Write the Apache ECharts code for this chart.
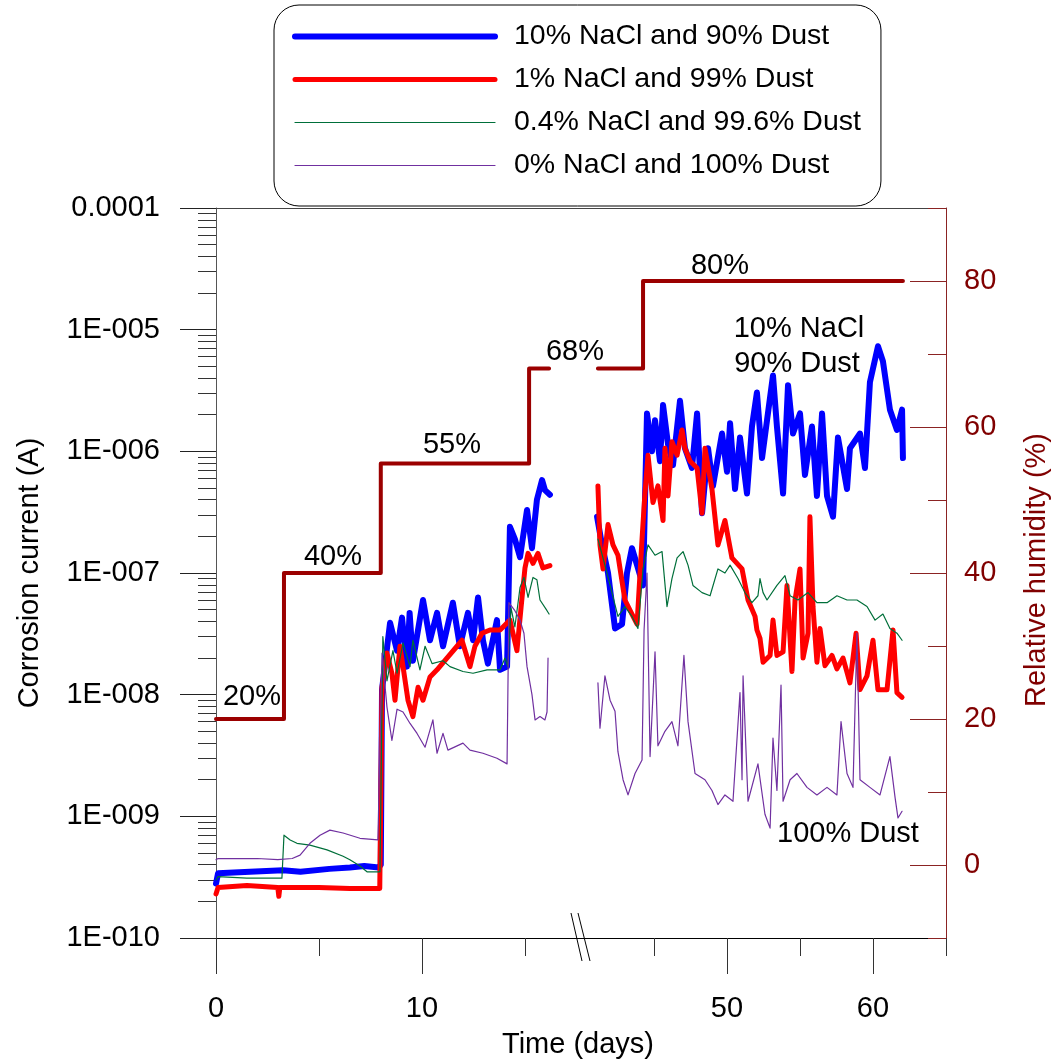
<!DOCTYPE html>
<html>
<head>
<meta charset="utf-8">
<script src="https://cdn.jsdelivr.net/npm/echarts@6/dist/echarts.min.js"></script>
<style>
html, body { margin: 0; padding: 0; background: #fff; }
#chartCorr { width: 1055px; height: 1062px; }
</style>
</head>
<body>
<div id="chartCorr"></div>
<script type="text/javascript">
// series names (legend)
var seriesNames = ['10% NaCl and 90% Dust', '1% NaCl and 99% Dust', '0.4% NaCl and 99.6% Dust', '0% NaCl and 100% Dust'];

// [day, corrosion current (A)] - first part of the test (0..17 days)
var blueLeft = [[0, 2.8e-10], [0.1, 3.4e-10], [1.65, 3.5e-10], [3.25, 3.6e-10], [4.1, 3.5e-10], [5.5, 3.7e-10], [6.5, 3.8e-10], [7.2, 3.9e-10], [7.9, 3.8e-10], [8.0, 4.0e-10],
	[8.06, 1.1e-8], [8.45, 3.9e-8], [8.79, 2.3e-8], [9.03, 4.3e-8], [9.27, 1.7e-8], [9.4, 4.7e-8], [9.56, 1.9e-8], [10.05, 6.0e-8], [10.39, 2.8e-8], [10.73, 4.7e-8],
	[11.02, 2.5e-8], [11.5, 5.7e-8], [11.84, 2.5e-8], [12.23, 4.7e-8], [12.48, 2.8e-8], [12.72, 6.3e-8], [12.96, 2.8e-8], [13.2, 1.8e-8], [13.64, 4.1e-8], [13.79, 1.6e-8],
	[14.13, 1.7e-8], [14.27, 2.4e-7], [14.51, 1.9e-7], [14.76, 1.35e-7], [15.1, 3.3e-7], [15.34, 1.6e-7], [15.58, 4.0e-7], [15.83, 5.8e-7], [15.97, 4.8e-7], [16.21, 4.4e-7]];
var redLeft = [[0, 2.3e-10], [0.1, 2.6e-10], [1.5, 2.7e-10], [3.0, 2.6e-10], [3.05, 2.2e-10], [3.1, 2.6e-10], [5.0, 2.6e-10], [6.5, 2.55e-10], [7.95, 2.55e-10],
	[8.06, 1.15e-8], [8.3, 2.2e-8], [8.54, 1.5e-8], [8.69, 9.0e-9], [8.93, 2.5e-8], [9.08, 1.7e-8], [9.32, 9.0e-9], [9.56, 6.6e-9], [9.81, 1.15e-8], [10.05, 9.0e-9],
	[10.39, 1.4e-8], [10.73, 1.6e-8], [11.21, 2.0e-8], [11.7, 2.5e-8], [11.94, 2.8e-8], [12.33, 1.7e-8], [12.57, 2.5e-8], [12.91, 3.2e-8], [13.3, 3.4e-8], [13.79, 3.4e-8],
	[14.27, 4.1e-8], [14.61, 2.3e-8], [14.81, 5.2e-8], [15.0, 1.1e-7], [15.15, 1.45e-7], [15.39, 1.2e-7], [15.63, 1.45e-7], [15.87, 1.1e-7], [16.21, 1.15e-7]];
var greenLeft = [[0, 3.0e-10], [0.1, 3.2e-10], [1.5, 3.1e-10], [3.2, 3.1e-10], [3.3, 7.0e-10], [3.6, 6.4e-10], [3.93, 6.0e-10], [4.56, 5.8e-10], [5.39, 5.3e-10],
	[6.17, 4.7e-10], [6.5, 4.4e-10], [6.99, 3.9e-10], [7.33, 3.5e-10], [7.96, 3.5e-10],
	[8.1, 3.0e-8], [8.3, 1.3e-8], [8.59, 2.3e-8], [8.79, 1.5e-8], [9.08, 2.65e-8], [9.42, 1.7e-8], [9.56, 2.8e-8], [9.9, 1.6e-8], [10.15, 2.5e-8], [10.49, 1.8e-8],
	[11.02, 1.9e-8], [11.36, 1.7e-8], [11.99, 1.55e-8], [12.48, 1.5e-8], [13.16, 1.6e-8], [13.79, 1.6e-8], [14.03, 2.0e-8], [14.17, 1.7e-8], [14.32, 5.2e-8],
	[14.51, 3.6e-8], [14.76, 7.6e-8], [14.95, 9.2e-8], [15.15, 6.3e-8], [15.39, 9.2e-8], [15.58, 8.8e-8], [15.73, 6.0e-8], [16.07, 4.9e-8], [16.17, 4.6e-8]];
var purpleLeft = [[0, 4.4e-10], [0.1, 4.5e-10], [2.0, 4.5e-10], [3.0, 4.4e-10], [3.7, 4.5e-10], [4.08, 4.8e-10], [4.56, 6.0e-10], [5.05, 7.0e-10], [5.53, 7.7e-10],
	[6.17, 7.3e-10], [6.99, 6.6e-10], [7.86, 6.4e-10],
	[8.06, 2.2e-8], [8.3, 7.9e-9], [8.54, 4.2e-9], [8.79, 7.6e-9], [9.08, 7.2e-9], [9.42, 5.8e-9], [9.76, 4.8e-9], [10.15, 3.7e-9], [10.53, 6.2e-9], [10.73, 3.3e-9],
	[11.02, 4.8e-9], [11.26, 3.5e-9], [11.99, 4.0e-9], [12.33, 3.5e-9], [12.96, 3.3e-9], [13.64, 3.0e-9], [14.13, 2.7e-9], [14.22, 5.7e-8], [14.51, 4.9e-8],
	[14.76, 4.1e-8], [14.95, 3.2e-8], [15.1, 1.7e-8], [15.34, 1.0e-8], [15.49, 6.2e-9], [15.73, 6.6e-9], [15.97, 6.2e-9], [16.07, 7.2e-9], [16.12, 2.0e-8]];

// second part of the test (40..65 days)
var blueRight = [[41.10, 2.9e-7], [41.44, 1.7e-7], [41.85, 1.0e-7], [42.33, 3.5e-8], [42.81, 3.8e-8], [43.15, 1.0e-7], [43.49, 1.6e-7], [43.84, 1.16e-7], [44.25, 7.9e-8],
	[44.52, 2.05e-6], [44.86, 1.0e-6], [45.07, 1.8e-6], [45.41, 8.3e-7], [45.62, 2.4e-6], [45.96, 1.14e-6], [46.30, 7.7e-7], [46.78, 2.6e-6], [47.12, 1.06e-6],
	[47.60, 7.3e-7], [47.95, 2.05e-6], [48.29, 3.1e-7], [48.70, 1.06e-6], [49.04, 5.2e-7], [49.66, 1.4e-6], [50.00, 6.8e-7], [50.21, 1.7e-6], [50.55, 4.9e-7],
	[50.89, 1.3e-6], [51.37, 4.5e-7], [51.71, 1.6e-6], [52.05, 3.05e-6], [52.40, 8.8e-7], [52.74, 1.8e-6], [53.15, 4.2e-6], [53.42, 1.6e-6], [53.84, 4.5e-7],
	[54.18, 3.5e-6], [54.52, 1.4e-6], [55.00, 2.05e-6], [55.34, 6.4e-7], [55.82, 1.6e-6], [56.16, 4.3e-7], [56.51, 2.05e-6], [56.85, 4.3e-7], [57.26, 2.9e-7],
	[57.60, 1.3e-6], [58.22, 4.9e-7], [58.42, 1.06e-6], [59.11, 1.4e-6], [59.45, 7.3e-7], [59.79, 3.7e-6], [60.34, 7.3e-6], [60.68, 5.5e-6], [61.16, 2.2e-6],
	[61.64, 1.5e-6], [61.99, 2.2e-6], [62.05, 8.8e-7]];
var redRight = [[41.16, 5.2e-7], [41.30, 1.7e-7], [41.51, 1.08e-7], [41.85, 2.5e-7], [42.19, 1.7e-7], [42.53, 1.4e-7], [43.01, 6.0e-8], [43.49, 4.6e-8], [43.84, 3.8e-8],
	[44.18, 1.9e-7], [44.38, 4.5e-7], [44.59, 9.3e-7], [44.93, 3.8e-7], [45.27, 5.2e-7], [45.62, 2.7e-7], [45.75, 1.06e-6], [45.96, 4.3e-7], [46.23, 1.2e-6],
	[46.58, 9.3e-7], [46.92, 1.5e-6], [47.12, 1.06e-6], [47.47, 8.3e-7], [47.95, 7.3e-7], [48.29, 3.1e-7], [48.49, 1.06e-6], [48.97, 4.9e-7], [49.38, 1.7e-7],
	[49.86, 2.7e-7], [50.34, 1.33e-7], [51.03, 1.08e-7], [51.44, 6.0e-8], [51.92, 4.4e-8], [52.05, 3.4e-8], [52.26, 2.9e-8], [52.47, 1.85e-8], [52.95, 2.1e-8],
	[53.15, 4.1e-8], [53.42, 2.1e-8], [53.84, 2.25e-8], [54.11, 7.9e-8], [54.45, 1.55e-8], [54.66, 6.0e-8], [55.00, 1.08e-7], [55.21, 2.0e-8], [55.55, 3.2e-8],
	[55.68, 2.9e-7], [55.89, 5.3e-8], [56.16, 1.85e-8], [56.37, 3.5e-8], [56.71, 1.73e-8], [57.19, 2.1e-8], [57.53, 1.63e-8], [57.95, 2.0e-8], [58.42, 1.25e-8],
	[58.84, 3.2e-8], [59.11, 1.1e-8], [59.59, 1.43e-8], [60.00, 2.8e-8], [60.34, 1.1e-8], [60.96, 1.1e-8], [61.37, 3.4e-8], [61.64, 1.04e-8], [61.99, 9.5e-9]];
var greenRight = [[41.16, 1.9e-7], [41.64, 1.16e-7], [42.12, 6.9e-8], [42.53, 4.4e-8], [43.01, 5.3e-8], [43.49, 4.4e-8], [43.90, 3.5e-8], [44.25, 1.08e-7], [44.59, 1.7e-7],
	[45.07, 1.4e-7], [45.55, 1.5e-7], [45.89, 5.3e-8], [46.23, 9.0e-8], [46.58, 1.33e-7], [46.99, 1.5e-7], [47.33, 1.16e-7], [47.67, 7.9e-8], [48.29, 6.9e-8],
	[48.84, 6.5e-8], [49.38, 1.08e-7], [49.86, 1.0e-7], [50.21, 1.16e-7], [50.75, 9.0e-8], [51.23, 6.9e-8], [51.71, 5.7e-8], [52.12, 6.5e-8], [52.26, 9.0e-8],
	[52.47, 6.9e-8], [52.74, 6.0e-8], [53.42, 7.9e-8], [53.97, 9.5e-8], [54.32, 6.5e-8], [54.86, 6.0e-8], [55.55, 6.9e-8], [56.16, 5.7e-8], [56.85, 5.7e-8],
	[57.53, 6.5e-8], [58.22, 6.0e-8], [58.90, 6.0e-8], [59.59, 5.3e-8], [60.14, 4.1e-8], [60.68, 4.6e-8], [61.16, 3.5e-8], [61.64, 3.2e-8], [61.99, 2.8e-8]];
var purpleRight = [[41.16, 1.25e-8], [41.30, 5.3e-9], [41.64, 1.43e-8], [41.99, 9.0e-9], [42.33, 7.3e-9], [42.53, 3.4e-9], [42.88, 2.0e-9], [43.22, 1.5e-9], [43.70, 2.25e-9],
	[44.18, 2.9e-9], [44.32, 3.4e-8], [44.52, 1.0e-7], [44.73, 3.1e-9], [45.07, 2.25e-8], [45.27, 3.8e-9], [45.75, 5.0e-9], [46.23, 6.0e-9], [46.64, 3.8e-9],
	[47.05, 2.1e-8], [47.33, 6.0e-9], [47.81, 2.25e-9], [48.49, 2.0e-9], [48.97, 1.63e-9], [49.38, 1.25e-9], [49.86, 1.5e-9], [50.41, 1.33e-9], [50.89, 1.04e-8],
	[51.03, 2.0e-9], [51.10, 1.43e-8], [51.44, 1.33e-9], [52.12, 2.7e-9], [52.60, 1.04e-9], [52.95, 8.0e-10], [53.15, 4.4e-9], [53.42, 1.63e-9], [53.70, 1.2e-8],
	[53.84, 1.33e-9], [54.32, 2.0e-9], [54.79, 2.25e-9], [55.48, 1.73e-9], [56.16, 1.5e-9], [56.85, 1.73e-9], [57.53, 1.5e-9], [57.81, 6.0e-9], [58.22, 2.25e-9],
	[58.63, 1.73e-9], [58.90, 3.2e-8], [59.11, 2.0e-9], [59.79, 1.73e-9], [60.48, 1.5e-9], [61.16, 3.1e-9], [61.51, 1.43e-9], [61.71, 9.7e-10], [61.99, 1.1e-9]];

// relative humidity steps [day, %]
var rhLeft = [[0, 20], [3.3, 20], [3.3, 40], [8.0, 40], [8.0, 55], [15.2, 55], [15.2, 68], [16.17, 68]];
var rhRight = [[41.16, 68], [44.25, 68], [44.25, 80], [62.05, 80]];

// ticks
var dayTicksLeft = [0, 10], dayMinorLeft = [5, 15];
var dayTicksRight = [50, 60], dayMinorRight = [45, 55, 65];
var rhTicks = [0, 20, 40, 60, 80], rhMinor = [-10, 10, 30, 50, 70, 90];
var logMinor = [];
for (var n = -10; n < -4; n++) {
	for (var k = 2; k <= 9; k++) logMinor.push(n + Math.log(k) / Math.LN10);
}

var font = 'Liberation Sans, Arial, sans-serif';
var rhColor = '#9b0000';

function logLabel(v) {
	var e = Math.round(Math.log(v) / Math.LN10);
	if (e === -4) return '0.0001';
	return '1E-' + ('00' + (-e)).slice(-3);
}

function lineSeries(name, data, xi, yi, color, width, z) {
	return {
		name: name, type: 'line', xAxisIndex: xi, yAxisIndex: yi, data: data,
		showSymbol: false, symbol: 'none', z: z,
		lineStyle: { color: color, width: width, join: 'round', cap: 'round' },
		itemStyle: { color: color }
	};
}

function annot(text, x, y, color) {
	return { type: 'text', x: x, y: y, z: 50,
		style: { text: text, fill: color || '#000', fontSize: 29, fontFamily: font, align: 'center', verticalAlign: 'middle' } };
}

var chartCorr = echarts.init(document.getElementById('chartCorr'));
var option_corr = {
	animation: false,
	backgroundColor: '#fff',
	textStyle: { fontFamily: font },
	grid: [
		{ left: 216, top: 208, width: 365, height: 730 },
		{ left: 581, top: 208, width: 365, height: 730 }
	],
	legend: {
		orient: 'vertical', left: 274, top: 5,
		padding: [17, 20, 26, 18],
		itemWidth: 200, itemHeight: 29, itemGap: 14,
		borderColor: '#000', borderWidth: 1, borderRadius: 25, backgroundColor: '#fff',
		selectedMode: false,
		itemStyle: { opacity: 0 },
		textStyle: { fontSize: 28.5, color: '#000', fontFamily: font, padding: [0, 0, 0, 14] },
		data: [
			{ name: seriesNames[0], lineStyle: { width: 6 }, itemStyle: { opacity: 0 } },
			{ name: seriesNames[1], lineStyle: { width: 5 }, itemStyle: { opacity: 0 } },
			{ name: seriesNames[2], lineStyle: { width: 1.2 }, itemStyle: { opacity: 0 } },
			{ name: seriesNames[3], lineStyle: { width: 1.2 }, itemStyle: { opacity: 0 } }
		]
	},
	xAxis: [
		{ gridIndex: 0, type: 'value', min: 0, max: 17.72, position: 'bottom',
			axisLine: { onZero: false, lineStyle: { color: '#000' } },
			axisTick: { customValues: dayTicksLeft, length: 36, lineStyle: { color: '#333' } },
			axisLabel: { customValues: dayTicksLeft, fontSize: 29, color: '#000', fontFamily: font, margin: 56 },
			splitLine: { show: false } },
		{ gridIndex: 0, type: 'value', min: 0, max: 17.72, position: 'bottom',
			axisLine: { show: false, onZero: false },
			axisTick: { customValues: dayMinorLeft, length: 18, lineStyle: { color: '#333' } },
			axisLabel: { show: false }, splitLine: { show: false } },
		{ gridIndex: 0, type: 'value', min: 0, max: 17.72, position: 'top',
			axisLine: { onZero: false, lineStyle: { color: '#444' } },
			axisTick: { show: false }, axisLabel: { show: false }, splitLine: { show: false } },
		{ gridIndex: 1, type: 'value', min: 40, max: 65, position: 'bottom',
			axisLine: { onZero: false, lineStyle: { color: '#000' } },
			axisTick: { customValues: dayTicksRight, length: 36, lineStyle: { color: '#333' } },
			axisLabel: { customValues: dayTicksRight, fontSize: 29, color: '#000', fontFamily: font, margin: 56 },
			splitLine: { show: false } },
		{ gridIndex: 1, type: 'value', min: 40, max: 65, position: 'bottom',
			axisLine: { show: false, onZero: false },
			axisTick: { customValues: dayMinorRight, length: 18, lineStyle: { color: '#333' } },
			axisLabel: { show: false }, splitLine: { show: false } },
		{ gridIndex: 1, type: 'value', min: 40, max: 65, position: 'top',
			axisLine: { onZero: false, lineStyle: { color: '#444' } },
			axisTick: { show: false }, axisLabel: { show: false }, splitLine: { show: false } }
	],
	yAxis: [
		{ gridIndex: 0, type: 'log', logBase: 10, min: 1e-10, max: 1e-4, position: 'left',
			axisLine: { onZero: false, lineStyle: { color: '#555' } },
			axisTick: { length: 36, lineStyle: { color: '#222' } },
			axisLabel: { formatter: logLabel, fontSize: 29, color: '#000', fontFamily: font, margin: 56 },
			splitLine: { show: false } },
		{ gridIndex: 0, type: 'value', min: -10, max: -4, position: 'left',
			axisLine: { show: false, onZero: false },
			axisTick: { customValues: logMinor, length: 18, lineStyle: { color: '#333' } },
			axisLabel: { show: false }, splitLine: { show: false } },
		{ gridIndex: 0, type: 'value', min: -10, max: 90, show: false },
		{ gridIndex: 1, type: 'log', logBase: 10, min: 1e-10, max: 1e-4, show: false },
		{ gridIndex: 1, type: 'value', min: -10, max: 90, position: 'right',
			axisLine: { onZero: false, lineStyle: { color: '#8b2323' } },
			axisTick: { inside: true, customValues: rhTicks, length: 36, lineStyle: { color: '#8b2323' } },
			axisLabel: { customValues: rhTicks, fontSize: 29, color: '#800000', fontFamily: font, margin: 18 },
			splitLine: { show: false } },
		{ gridIndex: 1, type: 'value', min: -10, max: 90, position: 'right',
			axisLine: { show: false, onZero: false },
			axisTick: { inside: true, customValues: rhMinor, length: 18, lineStyle: { color: '#8b2323' } },
			axisLabel: { show: false }, splitLine: { show: false } }
	],
	series: [
		lineSeries(seriesNames[0], blueLeft, 0, 0, '#0000ff', 6, 3),
		lineSeries(seriesNames[1], redLeft, 0, 0, '#ff0000', 5, 4),
		lineSeries(seriesNames[2], greenLeft, 0, 0, '#006f3a', 1.2, 5),
		lineSeries(seriesNames[3], purpleLeft, 0, 0, '#7030a0', 1.2, 6),
		lineSeries(seriesNames[0], blueRight, 3, 3, '#0000ff', 6, 3),
		lineSeries(seriesNames[1], redRight, 3, 3, '#ff0000', 5, 4),
		lineSeries(seriesNames[2], greenRight, 3, 3, '#006f3a', 1.2, 5),
		lineSeries(seriesNames[3], purpleRight, 3, 3, '#7030a0', 1.2, 6),
		lineSeries('RH', rhLeft, 0, 2, rhColor, 4, 2),
		lineSeries('RH', rhRight, 3, 4, rhColor, 4, 2)
	],
	graphic: [
		{ type: 'line', shape: { x1: 571, y1: 913, x2: 582, y2: 961 }, style: { stroke: '#000', lineWidth: 1 }, z: 50 },
		{ type: 'line', shape: { x1: 578, y1: 913, x2: 590, y2: 961 }, style: { stroke: '#000', lineWidth: 1 }, z: 50 },
		annot('20%', 252, 697), annot('40%', 333, 557), annot('55%', 452, 445),
		annot('68%', 575, 352), annot('80%', 720, 266),
		annot('10% NaCl', 799, 329), annot('90% Dust', 797, 364), annot('100% Dust', 848, 834),
		{ type: 'text', x: 30, y: 573, rotation: Math.PI / 2, z: 50,
			style: { text: 'Corrosion current (A)', fill: '#000', fontSize: 29, fontFamily: font, align: 'center', verticalAlign: 'middle' } },
		{ type: 'text', x: 1037, y: 570, rotation: Math.PI / 2, z: 50,
			style: { text: 'Relative humidity (%)', fill: '#800000', fontSize: 29, fontFamily: font, align: 'center', verticalAlign: 'middle' } },
		annot('Time (days)', 578, 1045)
	]
};
chartCorr.setOption(option_corr);
window.onresize = function () {
	chartCorr.resize();
};
</script>
</body>
</html>
